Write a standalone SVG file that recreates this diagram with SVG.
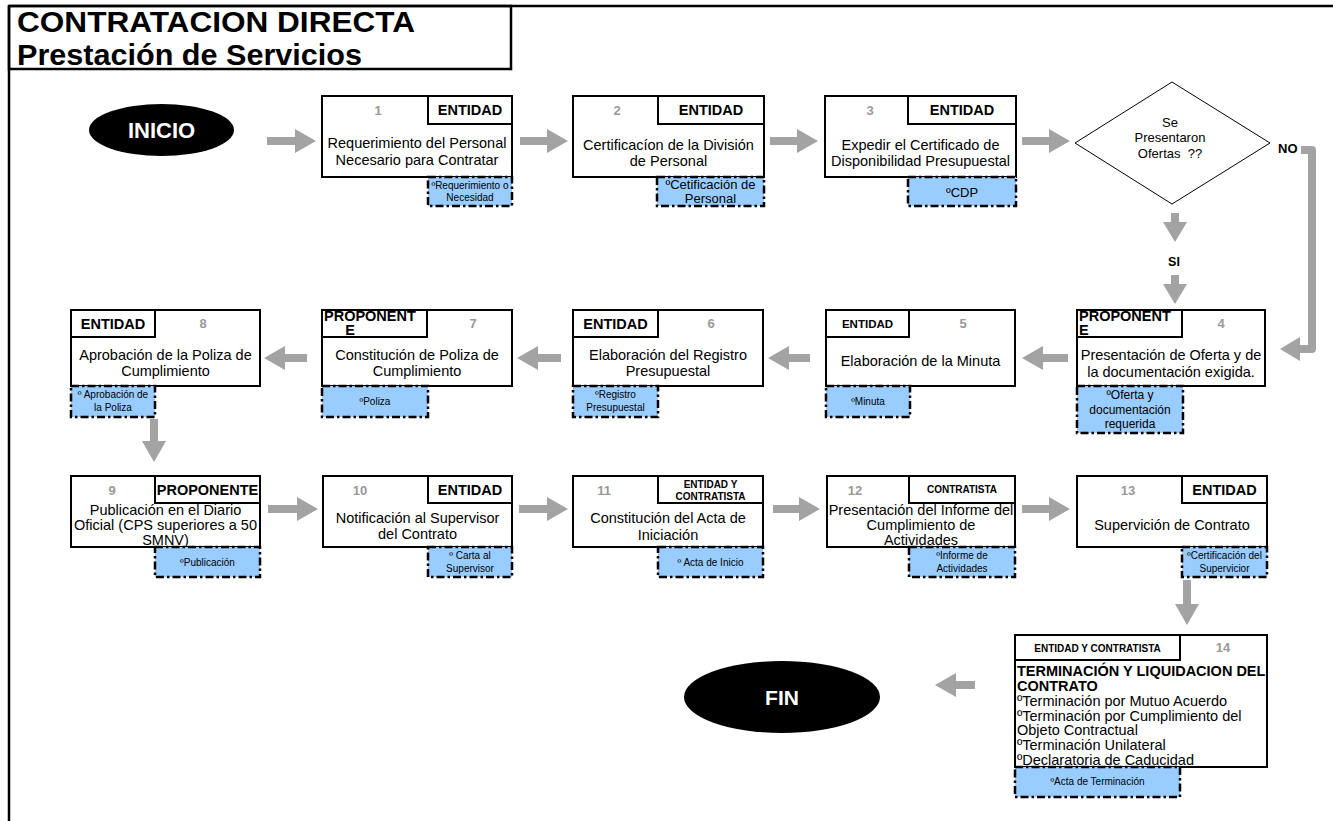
<svg xmlns="http://www.w3.org/2000/svg" width="1333" height="821" viewBox="0 0 1333 821">
<style>
text{font-family:"Liberation Sans",Arial,sans-serif;fill:#000}
.box{fill:#fff;stroke:#000;stroke-width:2}
.doc{fill:#99CCFF;stroke:#000;stroke-width:2.5;stroke-dasharray:8 3 2.5 3}
.t{font-size:14.5px;text-anchor:middle}
.tl{font-size:14.5px}
.hd{font-size:14.5px;font-weight:bold;text-anchor:middle}
.num{font-size:13px;font-weight:bold;fill:#999;text-anchor:middle}
.s10{font-size:10px;text-anchor:middle}
.s12{font-size:12px;text-anchor:middle}
.s13{font-size:13px;text-anchor:middle}
.b10{font-size:10px;font-weight:bold;text-anchor:middle}
.arrow{fill:#A3A3A3}
.term{fill:#000}
.termt{font-weight:bold;fill:#fff;text-anchor:middle}
.title{font-size:29px;font-weight:bold}
</style>
<rect width="1333" height="821" fill="#fff"/>
<g id="frame">
<line x1="9" y1="6" x2="1333" y2="6" stroke="#000" stroke-width="2.5"/>
<line x1="9" y1="6" x2="9" y2="821" stroke="#000" stroke-width="2.5"/>
<rect x="9" y="6" width="502" height="63" fill="none" stroke="#000" stroke-width="2.5"/>
<text class="title" x="17" y="32" textLength="398" lengthAdjust="spacingAndGlyphs">CONTRATACION DIRECTA</text>
<text class="title" x="17" y="65" textLength="345" lengthAdjust="spacingAndGlyphs">Prestación de Servicios</text>
</g>
<g id="connectors">
<polygon class="arrow" points="267,137 295,137 295,129 316,141 295,153 295,145 267,145"/>
<polygon class="arrow" points="520,137 547,137 547,129 568,141 547,153 547,145 520,145"/>
<polygon class="arrow" points="770,137 797,137 797,129 818,141 797,153 797,145 770,145"/>
<polygon class="arrow" points="1022,137 1049,137 1049,129 1070,141 1049,153 1049,145 1022,145"/>
<polygon class="arrow" points="1171,213 1171,222 1163,222 1175,242 1187,222 1179,222 1179,213"/>
<polygon class="arrow" points="1171,275 1171,284 1163,284 1175,304 1187,284 1179,284 1179,275"/>
<path d="M1301,150 H1312 V349 H1298" fill="none" stroke="#A3A3A3" stroke-width="8" stroke-linejoin="round"/>
<polygon class="arrow" points="1300,337 1280,349 1300,361"/>
<polygon class="arrow" points="1068,354 1043,354 1043,346 1022,358 1043,370 1043,362 1068,362"/>
<polygon class="arrow" points="810,354 789,354 789,346 768,358 789,370 789,362 810,362"/>
<polygon class="arrow" points="561,354 538,354 538,346 517,358 538,370 538,362 561,362"/>
<polygon class="arrow" points="307,354 285,354 285,346 264,358 285,370 285,362 307,362"/>
<polygon class="arrow" points="150,419 150,441 142,441 154,462 166,441 158,441 158,419"/>
<polygon class="arrow" points="268,505 297,505 297,497 318,509 297,521 297,513 268,513"/>
<polygon class="arrow" points="519,505 547,505 547,497 568,509 547,521 547,513 519,513"/>
<polygon class="arrow" points="773,505 799,505 799,497 820,509 799,521 799,513 773,513"/>
<polygon class="arrow" points="1022,505 1049,505 1049,497 1070,509 1049,521 1049,513 1022,513"/>
<polygon class="arrow" points="1183,580 1183,604 1175,604 1187,625 1199,604 1191,604 1191,580"/>
<polygon class="arrow" points="975,681 956,681 956,673 935,685 956,697 956,689 975,689"/>
<text x="1174" y="266" style="font-size:12.5px;font-weight:bold;text-anchor:middle">SI</text>
<text x="1278" y="153" style="font-size:13px;font-weight:bold">NO</text>
</g>
<g id="inicio">
<ellipse class="term" cx="161.5" cy="130" rx="72.5" ry="26"/>
<text class="termt" x="161.5" y="138" style="font-size:22px">INICIO</text>
</g>
<g id="n1">
<rect class="box" x="322" y="96" width="190" height="81"/>
<rect class="box" x="428" y="96" width="84" height="28"/>
<text class="num" x="378" y="115">1</text>
<text class="hd" x="470" y="115">ENTIDAD</text>
<text class="t" x="417" y="148">Requerimiento del Personal</text>
<text class="t" x="417" y="165">Necesario para Contratar</text>
<rect class="doc" x="428" y="177" width="84" height="29"/>
<text class="s10" x="470" y="189">ºRequerimiento o</text>
<text class="s10" x="470" y="201">Necesidad</text>
</g>
<g id="n2">
<rect class="box" x="573" y="96" width="191" height="81"/>
<rect class="box" x="658" y="96" width="106" height="28"/>
<text class="num" x="617" y="115">2</text>
<text class="hd" x="711" y="115">ENTIDAD</text>
<text class="t" x="668.5" y="150">Certificacíon de la División</text>
<text class="t" x="668.5" y="166">de Personal</text>
<rect class="doc" x="657" y="177" width="107" height="29"/>
<text class="s13" x="710.5" y="189">ºCetificación de</text>
<text class="s13" x="710.5" y="203">Personal</text>
</g>
<g id="n3">
<rect class="box" x="825" y="96" width="191" height="81"/>
<rect class="box" x="908" y="96" width="108" height="28"/>
<text class="num" x="870" y="115">3</text>
<text class="hd" x="962" y="115">ENTIDAD</text>
<text class="t" x="920.5" y="150">Expedir el Certificado de</text>
<text class="t" x="920.5" y="166">Disponibilidad Presupuestal</text>
<rect class="doc" x="908" y="177" width="108" height="29"/>
<text class="s13" x="962" y="197">ºCDP</text>
</g>
<g id="decision">
<polygon points="1172,82 1270,143 1172,204 1075,143" fill="#fff" stroke="#000" stroke-width="1"/>
<text class="s13" x="1170" y="126.5">Se</text>
<text class="s13" x="1170" y="142">Presentaron</text>
<text class="s13" x="1170" y="157.5">Ofertas&#160; ??</text>
</g>
<g id="n4">
<rect class="box" x="1077" y="310" width="188" height="76"/>
<rect class="box" x="1077" y="310" width="105" height="27"/>
<text x="1079" y="321" style="font-size:14.5px;font-weight:bold">PROPONENT</text>
<text x="1079" y="335" style="font-size:14.5px;font-weight:bold">E</text>
<text class="num" x="1221" y="328">4</text>
<text class="t" x="1171" y="360">Presentación de Oferta y de</text>
<text class="t" x="1171" y="377">la documentación exigida.</text>
<rect class="doc" x="1077" y="386" width="106" height="47"/>
<text class="s12" x="1130" y="399">ºOferta y</text>
<text class="s12" x="1130" y="414">documentación</text>
<text class="s12" x="1130" y="428">requerida</text>
</g>
<g id="n5">
<rect class="box" x="826" y="310" width="189" height="76"/>
<rect class="box" x="826" y="310" width="83" height="27"/>
<text x="867.5" y="328" style="font-size:11.5px;font-weight:bold;text-anchor:middle">ENTIDAD</text>
<text class="num" x="963" y="328">5</text>
<text class="t" x="920.5" y="366">Elaboración de la Minuta</text>
<rect class="doc" x="826" y="386" width="84" height="31"/>
<text class="s10" x="868" y="405">ºMinuta</text>
</g>
<g id="n6">
<rect class="box" x="573" y="310" width="190" height="76"/>
<rect class="box" x="573" y="310" width="85" height="27"/>
<text class="hd" x="615.5" y="329">ENTIDAD</text>
<text class="num" x="711" y="328">6</text>
<text class="t" x="668" y="360">Elaboración del Registro</text>
<text class="t" x="668" y="376">Presupuestal</text>
<rect class="doc" x="573" y="386" width="85" height="31"/>
<text class="s10" x="615.5" y="398">ºRegistro</text>
<text class="s10" x="615.5" y="411">Presupuestal</text>
</g>
<g id="n7">
<rect class="box" x="322" y="310" width="190" height="76"/>
<rect class="box" x="322" y="310" width="105" height="27"/>
<text x="324" y="321" style="font-size:14.5px;font-weight:bold">PROPONENT</text>
<text x="350" y="335" style="font-size:14.5px;font-weight:bold;text-anchor:middle">E</text>
<text class="num" x="473" y="328">7</text>
<text class="t" x="417" y="360">Constitución de Poliza de</text>
<text class="t" x="417" y="376">Cumplimiento</text>
<rect class="doc" x="322" y="386" width="106" height="31"/>
<text class="s10" x="375" y="405">ºPoliza</text>
</g>
<g id="n8">
<rect class="box" x="71" y="310" width="189" height="76"/>
<rect class="box" x="71" y="310" width="84" height="27"/>
<text class="hd" x="113" y="329">ENTIDAD</text>
<text class="num" x="203" y="328">8</text>
<text class="t" x="165.5" y="360">Aprobación de la Poliza de</text>
<text class="t" x="165.5" y="376">Cumplimiento</text>
<rect class="doc" x="71" y="386" width="84" height="31"/>
<text class="s10" x="113" y="398">º Aprobación de</text>
<text class="s10" x="113" y="411">la Poliza</text>
</g>
<g id="n9">
<rect class="box" x="71" y="476" width="189" height="71"/>
<rect class="box" x="155" y="476" width="105" height="27"/>
<text class="num" x="112" y="495">9</text>
<text class="hd" x="207.5" y="495">PROPONENTE</text>
<text class="t" x="165.5" y="515">Publicación en el Diario</text>
<text class="t" x="165.5" y="530">Oficial (CPS superiores a 50</text>
<text class="t" x="165.5" y="545">SMNV)</text>
<rect class="doc" x="155" y="547" width="105" height="30"/>
<text class="s10" x="207.5" y="566">ºPublicación</text>
</g>
<g id="n10">
<rect class="box" x="323" y="476" width="189" height="71"/>
<rect class="box" x="428" y="476" width="84" height="27"/>
<text class="num" x="360" y="495">10</text>
<text class="hd" x="470" y="495">ENTIDAD</text>
<text class="t" x="417.5" y="523">Notificación al Supervisor</text>
<text class="t" x="417.5" y="539">del Contrato</text>
<rect class="doc" x="428" y="547" width="84" height="30"/>
<text class="s10" x="470" y="559">º Carta al</text>
<text class="s10" x="470" y="572">Supervisor</text>
</g>
<g id="n11">
<rect class="box" x="573" y="476" width="190" height="71"/>
<rect class="box" x="658" y="476" width="105" height="27"/>
<text class="num" x="604" y="495">11</text>
<text class="b10" x="710.5" y="488">ENTIDAD Y</text>
<text class="b10" x="710.5" y="500">CONTRATISTA</text>
<text class="t" x="668" y="523">Constitución del Acta de</text>
<text class="t" x="668" y="540">Iniciación</text>
<rect class="doc" x="658" y="547" width="105" height="30"/>
<text class="s10" x="710.5" y="566">º Acta de Inicio</text>
</g>
<g id="n12">
<rect class="box" x="827" y="476" width="188" height="71"/>
<rect class="box" x="909" y="476" width="106" height="27"/>
<text class="num" x="855" y="495">12</text>
<text class="b10" x="962" y="493">CONTRATISTA</text>
<text class="t" x="921" y="515">Presentación del Informe del</text>
<text class="t" x="921" y="530">Cumplimiento de</text>
<text class="t" x="921" y="545">Actividades</text>
<rect class="doc" x="909" y="547" width="106" height="30"/>
<text class="s10" x="962" y="559">ºInforme de</text>
<text class="s10" x="962" y="572">Actividades</text>
</g>
<g id="n13">
<rect class="box" x="1077" y="476" width="190" height="71"/>
<rect class="box" x="1182" y="476" width="85" height="27"/>
<text class="num" x="1128" y="495">13</text>
<text class="hd" x="1224.5" y="495">ENTIDAD</text>
<text class="t" x="1172" y="530">Supervición de Contrato</text>
<rect class="doc" x="1182" y="547" width="85" height="30"/>
<text class="s10" x="1224.5" y="559">ºCertificación del</text>
<text class="s10" x="1224.5" y="572">Supervicior</text>
</g>
<g id="n14">
<rect class="box" x="1015" y="635" width="252" height="132"/>
<rect class="box" x="1015" y="635" width="165" height="25"/>
<text class="b10" x="1097.5" y="652">ENTIDAD Y CONTRATISTA</text>
<text class="num" x="1223" y="652">14</text>
<text x="1017" y="676" style="font-size:14.5px;font-weight:bold">TERMINACIÓN Y LIQUIDACION DEL</text>
<text x="1017" y="691" style="font-size:14.5px;font-weight:bold">CONTRATO</text>
<text class="tl" x="1017" y="706">ºTerminación por Mutuo Acuerdo</text>
<text class="tl" x="1017" y="720.5">ºTerminación por Cumplimiento del</text>
<text class="tl" x="1017" y="735">Objeto Contractual</text>
<text class="tl" x="1017" y="750">ºTerminación Unilateral</text>
<text class="tl" x="1017" y="764.5">ºDeclaratoria de Caducidad</text>
<rect class="doc" x="1015" y="767" width="165" height="30"/>
<text class="s10" x="1097.5" y="785">ºActa de Terminación</text>
</g>
<g id="fin">
<ellipse class="term" cx="782" cy="697" rx="98" ry="36"/>
<text class="termt" x="782" y="705" style="font-size:21px">FIN</text>
</g>
</svg>
